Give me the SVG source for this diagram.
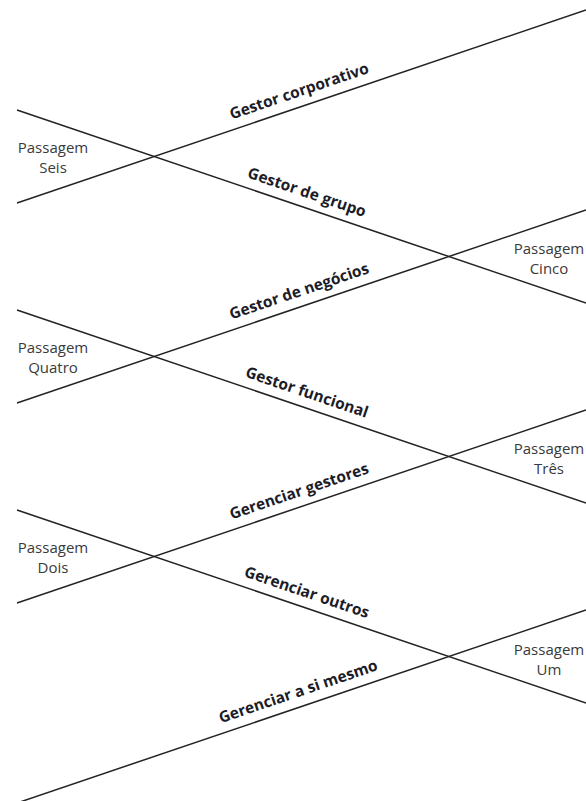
<svg xmlns="http://www.w3.org/2000/svg" width="586" height="801" viewBox="0 0 586 801">
<style>
.ln{stroke:#232323;stroke-width:1.5;fill:none}
.pass{font-family:"Open Sans","Liberation Sans",sans-serif;font-size:15px;fill:#3a3a3a;text-anchor:middle}
.stage{font-family:"Open Sans","Liberation Sans",sans-serif;font-size:15.5px;font-weight:bold;fill:#1c1c28;text-anchor:middle}
</style>
<rect width="586" height="801" fill="#ffffff"/>
<g id="connectors">
<line class="ln" x1="17" y1="203" x2="586" y2="10"/>
<line class="ln" x1="17" y1="403" x2="586" y2="210"/>
<line class="ln" x1="17" y1="603" x2="586" y2="410"/>
<line class="ln" x1="17" y1="803" x2="586" y2="610"/>
<line class="ln" x1="17" y1="110" x2="586" y2="303"/>
<line class="ln" x1="17" y1="310" x2="586" y2="503"/>
<line class="ln" x1="17" y1="510" x2="586" y2="703"/>
</g>
<g id="passagem-seis"><text class="pass" x="53" y="153">Passagem</text><text class="pass" x="53" y="173">Seis</text></g>
<g id="passagem-cinco"><text class="pass" x="549" y="254">Passagem</text><text class="pass" x="549" y="274">Cinco</text></g>
<g id="passagem-quatro"><text class="pass" x="53" y="353">Passagem</text><text class="pass" x="53" y="373">Quatro</text></g>
<g id="passagem-tres"><text class="pass" x="549" y="454">Passagem</text><text class="pass" x="549" y="474">Três</text></g>
<g id="passagem-dois"><text class="pass" x="53" y="553">Passagem</text><text class="pass" x="53" y="573">Dois</text></g>
<g id="passagem-um"><text class="pass" x="549" y="655">Passagem</text><text class="pass" x="549" y="675">Um</text></g>
<g id="gestor-corporativo"><text class="stage" transform="translate(304,105.6) rotate(-18.73)" x="0" y="-10">Gestor corporativo</text></g>
<g id="gestor-de-grupo"><text class="stage" transform="translate(302,206.7) rotate(18.73)" x="0" y="-10">Gestor de grupo</text></g>
<g id="gestor-de-negocios"><text class="stage" transform="translate(304,305.6) rotate(-18.73)" x="0" y="-10">Gestor de negócios</text></g>
<g id="gestor-funcional"><text class="stage" transform="translate(302,406.7) rotate(18.73)" x="0" y="-10">Gestor funcional</text></g>
<g id="gerenciar-gestores"><text class="stage" transform="translate(304,505.6) rotate(-18.73)" x="0" y="-10">Gerenciar gestores</text></g>
<g id="gerenciar-outros"><text class="stage" transform="translate(302,606.7) rotate(18.73)" x="0" y="-10">Gerenciar outros</text></g>
<g id="gerenciar-a-si-mesmo"><text class="stage" transform="translate(303,706) rotate(-18.73)" x="0" y="-10">Gerenciar a si mesmo</text></g>
</svg>
